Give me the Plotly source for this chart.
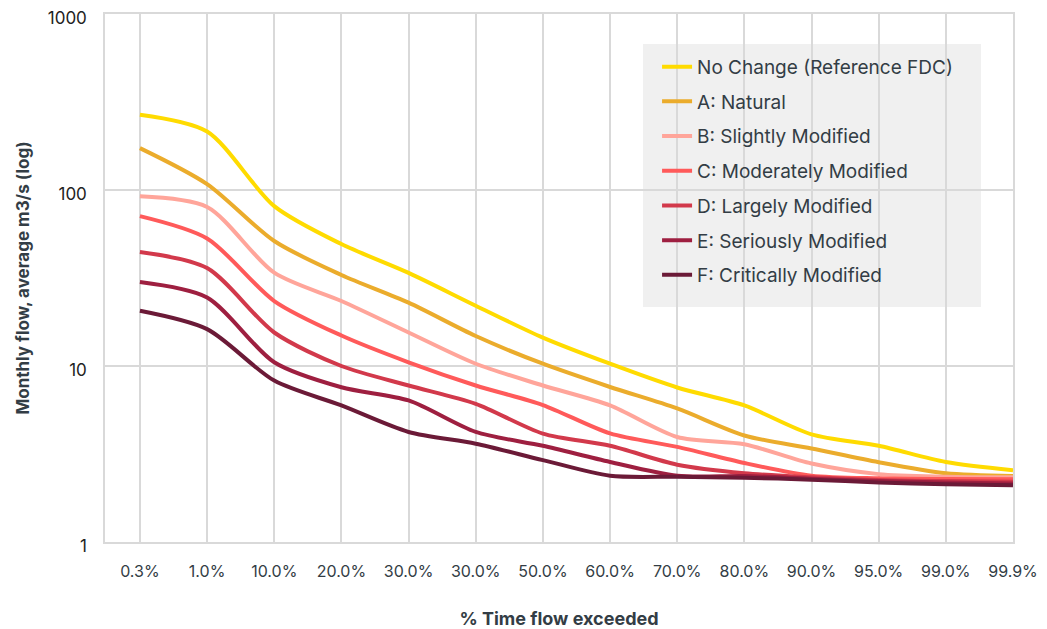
import plotly.graph_objects as go

categories = ["0.3%", "1.0%", "10.0%", "20.0%", "30.0%", "30.0%", "50.0%",
              "60.0%", "70.0%", "80.0%", "90.0%", "95.0%", "99.0%", "99.9%"]

no_change = [268, 215, 81, 49.3, 33.8, 22.0, 14.5, 10.3, 7.55, 5.97, 4.09, 3.52, 2.85, 2.56]
a_natural = [173, 108, 51.3, 32.9, 22.9, 14.8, 10.3, 7.6, 5.74, 4.03, 3.40, 2.84, 2.46, 2.37]
b_slight = [92, 80, 33.9, 23.4, 15.5, 10.3, 7.75, 5.97, 3.95, 3.59, 2.79, 2.43, 2.35, 2.33]
c_moderate = [71, 53, 23.4, 14.9, 10.5, 7.75, 6.0, 4.14, 3.47, 2.81, 2.38, 2.30, 2.28, 2.27]
d_largely = [44.4, 36, 15.5, 10.0, 7.75, 6.1, 4.13, 3.52, 2.75, 2.46, 2.33, 2.25, 2.22, 2.20]
e_serious = [30, 24.5, 10.5, 7.57, 6.37, 4.22, 3.52, 2.85, 2.38, 2.37, 2.29, 2.22, 2.18, 2.15]
f_critical = [20.6, 16.2, 8.26, 5.97, 4.22, 3.62, 2.92, 2.38, 2.35, 2.32, 2.26, 2.18, 2.13, 2.10]

series_names = ["No Change (Reference FDC)", "A: Natural", "B: Slightly Modified",
                "C: Moderately Modified", "D: Largely Modified",
                "E: Seriously Modified", "F: Critically Modified"]
series_values = [no_change, a_natural, b_slight, c_moderate, d_largely, e_serious, f_critical]
colors = ["#FFDB00", "#EBAC2C", "#FFA59A", "#FF5A5A", "#D2394B", "#9E1F40", "#6B1A37"]

y_ticks = [1, 10, 100, 1000]

FONT = "Inter"
TEXT = "#333D45"

x_pos = list(range(len(categories)))

fig = go.Figure()
for name, vals, col in zip(series_names, series_values, colors):
    fig.add_trace(go.Scatter(
        x=x_pos, y=vals, name=name, mode="lines",
        line=dict(color=col, width=4, shape="spline", smoothing=0.8),
        legendgroup=name,
    ))

fig.update_layout(
    width=1039, height=621,
    margin=dict(l=97, r=34, t=6, b=87),
    paper_bgcolor="white", plot_bgcolor="white",
    font=dict(family=FONT, color=TEXT),
    showlegend=True,
    legend=dict(
        x=0.608, y=0.936, xanchor="left", yanchor="top",
        bgcolor="rgba(0,0,0,0)", borderwidth=0,
        font=dict(family=FONT, size=19, color=TEXT),
        traceorder="grouped", tracegroupgap=7,
        itemwidth=30,
    ),
    shapes=[dict(
        type="rect", xref="paper", yref="paper",
        x0=0.5925, x1=0.9648, y0=0.4451, y1=0.9430,
        fillcolor="#F0F0F0", line=dict(width=0), layer="below",
    )],
)

fig.update_xaxes(
    range=[-0.52, 13], tickmode="array", tickvals=x_pos, ticktext=categories,
    showgrid=True, gridcolor="#D9D9D9", gridwidth=1.5,
    showline=True, linecolor="#D9D9D9", linewidth=1.5, mirror=True,
    zeroline=False, ticks="", ticklabelstandoff=14, automargin=False,
    ticklabeloverflow="allow",
    tickfont=dict(family=FONT, size=16, color=TEXT),
    title=dict(text="<b>% Time flow exceeded</b>", standoff=34,
               font=dict(family=FONT, size=18, color=TEXT)),
)
fig.update_yaxes(
    type="log", range=[0, 3], tickmode="array", tickvals=y_ticks,
    ticktext=[str(v) for v in y_ticks],
    showgrid=True, gridcolor="#D9D9D9", gridwidth=1.5,
    showline=True, linecolor="#D9D9D9", linewidth=1.5, mirror=True,
    zeroline=False, ticks="", ticklabelstandoff=13, automargin=False,
    ticklabeloverflow="allow", ticklabelshift=4,
    tickfont=dict(family=FONT, size=17, color="#222222"),
    title=dict(text="<b>Monthly flow, average m3/s (log)</b>", standoff=14,
               font=dict(family=FONT, size=17, color=TEXT)),
)

fig.write_html("out.html")
